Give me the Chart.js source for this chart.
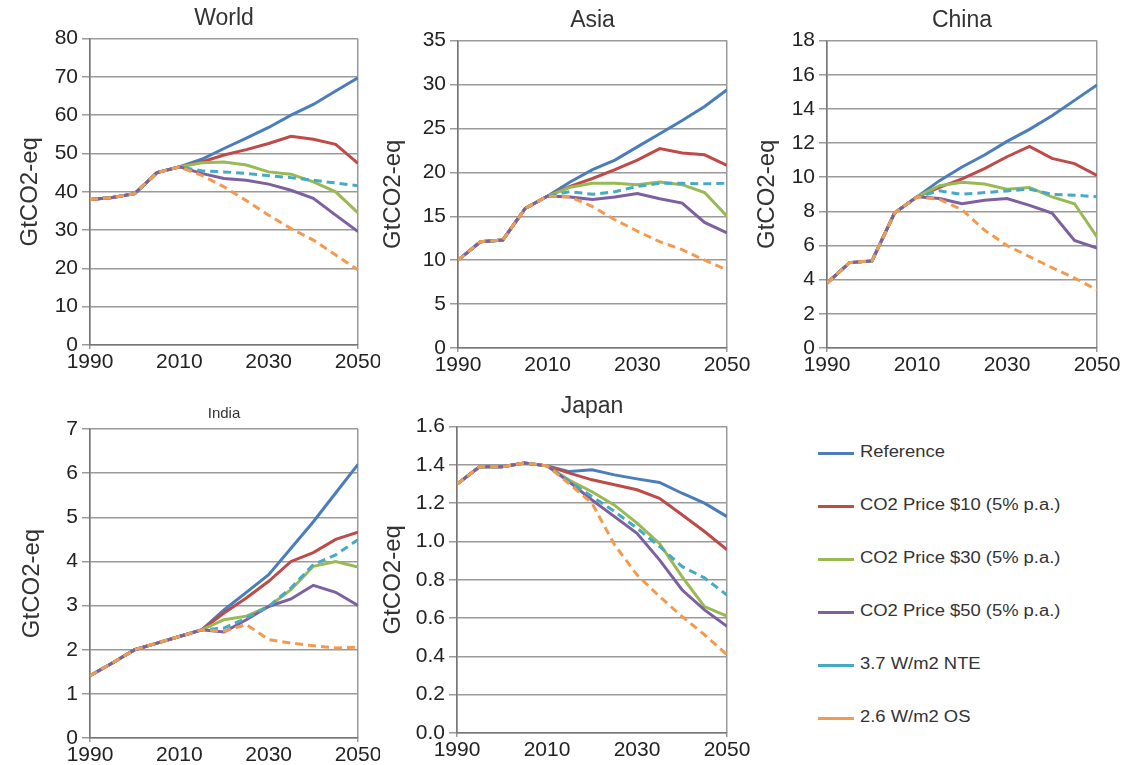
<!DOCTYPE html>
<html>
<head>
<meta charset="utf-8">
<script src="https://cdn.jsdelivr.net/npm/chart.js@4/dist/chart.umd.min.js"></script>
<style>
body{margin:0;background:#fff;width:1121px;height:765px;overflow:hidden;position:relative;font-family:"Liberation Sans",Arial,sans-serif}
.box{position:absolute}
#legend{position:absolute;left:0;top:0}
.item{position:absolute;left:818px;height:22px;white-space:nowrap}
.item i{position:absolute;left:0;top:10px;width:36px;height:3px}
.item span{position:absolute;left:42px;top:1px;font-size:16px;color:#333;transform:scaleX(1.15);transform-origin:left}
</style>
</head>
<body>
<div class="box" id="b0"><canvas id="c0"></canvas></div>
<div class="box" id="b1"><canvas id="c1"></canvas></div>
<div class="box" id="b2"><canvas id="c2"></canvas></div>
<div class="box" id="b3"><canvas id="c3"></canvas></div>
<div class="box" id="b4"><canvas id="c4"></canvas></div>
<div id="legend"></div>
<script>
const years = [1990, 1995, 2000, 2005, 2010, 2015, 2020, 2025, 2030, 2035, 2040, 2045, 2050];
const xTicks = [1990, 2010, 2030, 2050];
const seriesNames = ['Reference', 'CO2 Price $10 (5% p.a.)', 'CO2 Price $30 (5% p.a.)', 'CO2 Price $50 (5% p.a.)', '3.7 W/m2 NTE', '2.6 W/m2 OS'];
const seriesColors = ['#4a7ebb', '#be4b48', '#98b954', '#7d60a0', '#46aac5', '#f39a4e'];
const seriesDashed = [false, false, false, false, true, true];

// World
const worldRef = [38, 38.5, 39.5, 45, 46.5, 48.5, 51.3, 54, 56.8, 60, 62.8, 66.3, 69.8];
const worldP10 = [38, 38.5, 39.5, 45, 46.5, 47.8, 49.6, 51, 52.6, 54.5, 53.7, 52.4, 47.4];
const worldP30 = [38, 38.5, 39.5, 45, 46.5, 47.6, 47.8, 47, 45.2, 44.6, 42.6, 40, 34.5];
const worldP50 = [38, 38.5, 39.5, 45, 46.5, 44.8, 43.5, 43, 42, 40.4, 38.3, 33.9, 29.6];
const worldNTE = [38, 38.5, 39.5, 45, 46.5, 45.5, 45.2, 44.8, 44.2, 43.7, 43, 42.3, 41.6];
const worldOS = [38, 38.5, 39.5, 45, 46.5, 44.3, 41.3, 37.7, 33.9, 30.4, 27.4, 23.5, 19.6];

// Asia
const asiaRef = [10, 12.1, 12.3, 15.9, 17.3, 18.9, 20.3, 21.4, 22.9, 24.4, 25.9, 27.5, 29.4];
const asiaP10 = [10, 12.1, 12.3, 15.9, 17.3, 18.4, 19.3, 20.3, 21.4, 22.7, 22.2, 22, 20.8];
const asiaP30 = [10, 12.1, 12.3, 15.9, 17.3, 18.3, 18.75, 18.75, 18.6, 18.9, 18.6, 17.7, 15];
const asiaP50 = [10, 12.1, 12.3, 15.9, 17.3, 17.2, 16.9, 17.2, 17.6, 17, 16.5, 14.3, 13.1];
const asiaNTE = [10, 12.1, 12.3, 15.9, 17.3, 17.8, 17.5, 17.8, 18.4, 18.75, 18.75, 18.7, 18.75];
const asiaOS = [10, 12.1, 12.3, 15.9, 17.3, 17.2, 16.1, 14.6, 13.3, 12.1, 11.2, 10, 8.9];

// China
const chinaRef = [3.8, 5, 5.1, 7.9, 8.85, 9.8, 10.6, 11.3, 12.1, 12.8, 13.6, 14.5, 15.4];
const chinaP10 = [3.8, 5, 5.1, 7.9, 8.85, 9.4, 9.9, 10.5, 11.2, 11.8, 11.1, 10.8, 10.1];
const chinaP30 = [3.8, 5, 5.1, 7.9, 8.85, 9.5, 9.7, 9.6, 9.3, 9.4, 8.85, 8.45, 6.5];
const chinaP50 = [3.8, 5, 5.1, 7.9, 8.85, 8.75, 8.45, 8.65, 8.75, 8.35, 7.9, 6.3, 5.85];
const chinaNTE = [3.8, 5, 5.1, 7.9, 8.85, 9.2, 9, 9.1, 9.2, 9.3, 9, 8.95, 8.85];
const chinaOS = [3.8, 5, 5.1, 7.9, 8.85, 8.7, 8.1, 6.9, 6, 5.35, 4.7, 4.1, 3.4];

// India
const indiaRef = [1.41, 1.7, 2, 2.15, 2.3, 2.45, 2.9, 3.3, 3.7, 4.3, 4.9, 5.55, 6.2];
const indiaP10 = [1.41, 1.7, 2, 2.15, 2.3, 2.45, 2.83, 3.17, 3.55, 4, 4.2, 4.5, 4.66];
const indiaP30 = [1.41, 1.7, 2, 2.15, 2.3, 2.45, 2.68, 2.76, 2.98, 3.36, 3.89, 4, 3.87];
const indiaP50 = [1.41, 1.7, 2, 2.15, 2.3, 2.45, 2.4, 2.68, 2.98, 3.15, 3.46, 3.3, 3];
const indiaNTE = [1.41, 1.7, 2, 2.15, 2.3, 2.45, 2.49, 2.72, 2.98, 3.4, 3.93, 4.15, 4.49];
const indiaOS = [1.41, 1.7, 2, 2.15, 2.3, 2.45, 2.42, 2.57, 2.23, 2.15, 2.09, 2.04, 2.06];

// Japan
const japanRef = [1.3, 1.39, 1.39, 1.41, 1.395, 1.365, 1.374, 1.348, 1.327, 1.308, 1.252, 1.2, 1.13];
const japanP10 = [1.3, 1.39, 1.39, 1.41, 1.395, 1.357, 1.322, 1.296, 1.27, 1.226, 1.14, 1.052, 0.957];
const japanP30 = [1.3, 1.39, 1.39, 1.41, 1.395, 1.32, 1.26, 1.19, 1.096, 0.99, 0.817, 0.66, 0.61];
const japanP50 = [1.3, 1.39, 1.39, 1.41, 1.395, 1.31, 1.217, 1.13, 1.043, 0.904, 0.748, 0.643, 0.557];
const japanNTE = [1.3, 1.39, 1.39, 1.41, 1.395, 1.313, 1.235, 1.157, 1.07, 0.974, 0.87, 0.81, 0.72];
const japanOS = [1.3, 1.39, 1.39, 1.41, 1.395, 1.3, 1.2, 0.983, 0.826, 0.713, 0.609, 0.513, 0.409];

const panels = [
  {title: 'World', titleSize: 23, series: [worldRef, worldP10, worldP30, worldP50, worldNTE, worldOS], yMax: 80, yStep: 10, dec: 0,
   left: 0, top: 0, w: 380, h: 385, padT: 3, padR: 22, yw: 90, yTitlePad: 16},
  {title: 'Asia', titleSize: 23, series: [asiaRef, asiaP10, asiaP30, asiaP50, asiaNTE, asiaOS], yMax: 35, yStep: 5, dec: 0,
   left: 370, top: 0, w: 380, h: 388, padT: 5, padR: 23, yw: 88, yTitlePad: 9},
  {title: 'China', titleSize: 23, series: [chinaRef, chinaP10, chinaP30, chinaP50, chinaNTE, chinaOS], yMax: 18, yStep: 2, dec: 0,
   left: 740, top: 0, w: 381, h: 388, padT: 5, padR: 24, yw: 87, yTitlePad: 13},
  {title: 'India', titleSize: 15, series: [indiaRef, indiaP10, indiaP30, indiaP50, indiaNTE, indiaOS], yMax: 7, yStep: 1, dec: 0,
   left: 0, top: 390, w: 380, h: 388, padT: 13, padR: 22, yw: 90, yTitlePad: 18},
  {title: 'Japan', titleSize: 23, series: [japanRef, japanP10, japanP30, japanP50, japanNTE, japanOS], yMax: 1.6, yStep: 0.2, dec: 1,
   left: 370, top: 390, w: 380, h: 383, padT: 1, padR: 23, yw: 87, yTitlePad: 9}
];

const fontFamily = '"Liberation Sans", Arial, sans-serif';
const tickFont = {family: fontFamily, size: 21};

panels.forEach(function(p, k) {
  const box = document.getElementById('b' + k);
  box.style.left = p.left + 'px';
  box.style.top = p.top + 'px';
  box.style.width = p.w + 'px';
  box.style.height = p.h + 'px';

  const datasets = p.series.map(function(vals, i) {
    return {
      label: seriesNames[i],
      data: vals.map(function(v, j) { return {x: years[j], y: v}; }),
      borderColor: seriesColors[i],
      backgroundColor: seriesColors[i],
      borderWidth: 3,
      borderDash: seriesDashed[i] ? [8, 5] : [],
      pointRadius: 0,
      tension: 0,
      fill: false,
      order: 5 - i
    };
  });

  new Chart(document.getElementById('c' + k), {
    type: 'line',
    data: {datasets: datasets},
    options: {
      responsive: true,
      maintainAspectRatio: false,
      animation: false,
      layout: {padding: {top: p.padT, right: p.padR, left: 0, bottom: 0}},
      plugins: {
        legend: {display: false},
        tooltip: {enabled: false},
        title: {
          display: true,
          fullSize: false,
          text: p.title,
          color: '#333',
          font: {family: fontFamily, size: p.titleSize, weight: 'normal'},
          padding: {top: 2, bottom: 6}
        }
      },
      scales: {
        x: {
          type: 'linear',
          min: 1990,
          max: 2050,
          afterBuildTicks: function(s) { s.ticks = xTicks.map(function(v) { return {value: v}; }); },
          afterFit: function(s) { s.height = 40; s.paddingLeft = 0; s.paddingRight = 0; },
          ticks: {color: '#222', font: tickFont, padding: 1, maxRotation: 0, autoSkip: false,
                  callback: function(v) { return String(v); }},
          grid: {
            color: function(c) { return (c.tick && (c.tick.value === 1990 || c.tick.value === 2050)) ? '#999' : 'rgba(0,0,0,0)'; },
            lineWidth: 1.5,
            tickLength: 4
          },
          border: {color: '#777', width: 1.5}
        },
        y: {
          min: 0,
          max: p.yMax,
          afterFit: function(s) { s.width = p.yw; s.paddingTop = 0; s.paddingBottom = 0; },
          ticks: {
            stepSize: p.yStep,
            color: '#222',
            font: tickFont,
            padding: 4,
            callback: function(v) { return p.dec ? v.toFixed(p.dec) : String(v); }
          },
          grid: {color: '#9a9a9a', lineWidth: 1.5, tickLength: 8},
          border: {color: '#777', width: 1.5},
          title: {
            display: true,
            text: 'GtCO2-eq',
            color: '#333',
            font: {family: fontFamily, size: 24},
            padding: {top: p.yTitlePad, bottom: 0}
          }
        }
      }
    }
  });
});

// legend
const legend = document.getElementById('legend');
seriesNames.forEach(function(name, i) {
  const item = document.createElement('div');
  item.className = 'item';
  item.style.top = (442 + i * 53) + 'px';
  const line = document.createElement('i');
  line.style.background = seriesColors[i];
  const txt = document.createElement('span');
  txt.textContent = name;
  item.appendChild(line);
  item.appendChild(txt);
  legend.appendChild(item);
});
</script>
</body>
</html>
